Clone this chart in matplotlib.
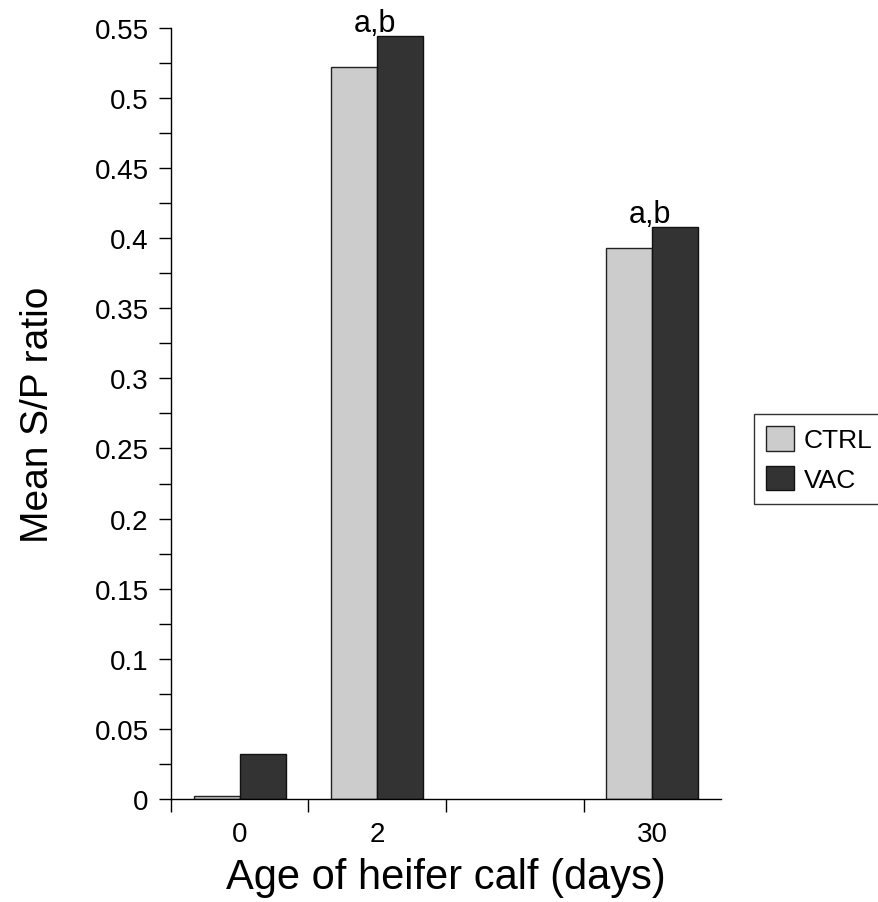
import numpy as np
import matplotlib.pyplot as plt
from matplotlib.ticker import FixedLocator, MultipleLocator, FuncFormatter

plt.rcParams['font.family'] = ['Liberation Sans', 'DejaVu Sans']

# data
ages = ["0", "2", "", "30"]
ctrl = [0.002, 0.522, np.nan, 0.393]
vac = [0.032, 0.544, np.nan, 0.408]
marks = ["", "a,b", "", "a,b"]

x = np.arange(len(ages))
w = 1 / 3

fig = plt.figure(figsize=(8.79, 9.03), dpi=100)
ax = fig.add_axes([0.1945, 0.1141, 0.6258, 0.8539])

ax.bar(x - w / 2, ctrl, w, color="#cccccc", edgecolor="#222222", linewidth=1, label="CTRL")
ax.bar(x + w / 2, vac, w, color="#333333", edgecolor="#111111", linewidth=1, label="VAC")

for xi, v, m in zip(x, vac, marks):
    if m:
        ax.annotate(m, (xi - 0.02, v), xytext=(0, 3.5), textcoords="offset points",
                    ha="center", va="baseline", fontsize=22)

ax.set_xlim(-0.5, 3.5)
ax.set_ylim(0, 0.55)

# category labels at centers, tick marks between categories
ax.set_xticks(x)
ax.set_xticklabels(ages)
ax.xaxis.set_minor_locator(FixedLocator([-0.5, 0.5, 1.5, 2.5]))
ax.tick_params(axis="x", which="major", length=0, labelsize=20, pad=16)
ax.tick_params(axis="x", which="minor", length=9, width=1, direction="out")

ax.yaxis.set_major_locator(MultipleLocator(0.05))
ax.yaxis.set_minor_locator(MultipleLocator(0.025))
ax.yaxis.set_major_formatter(FuncFormatter(lambda v, p: "%g" % round(v, 3)))
ax.tick_params(axis="y", which="both", length=9, width=1, direction="out", labelsize=20, pad=7)

for s in ["top", "right"]:
    ax.spines[s].set_visible(False)
for s in ["left", "bottom"]:
    ax.spines[s].set_linewidth(1)

ax.set_xlabel("Age of heifer calf (days)", fontsize=30, labelpad=7)
ax.set_ylabel("Mean S/P ratio", fontsize=28, labelpad=28)

leg = ax.legend(loc="center left", bbox_to_anchor=(1.06, 0.441), fontsize=19,
                frameon=True, fancybox=False, edgecolor="black",
                handlelength=1.06, handleheight=1.06, handletextpad=0.38,
                borderpad=0.45, labelspacing=0.5, borderaxespad=0)
leg.get_frame().set_linewidth(1)

fig.savefig("out.png", dpi=100)
